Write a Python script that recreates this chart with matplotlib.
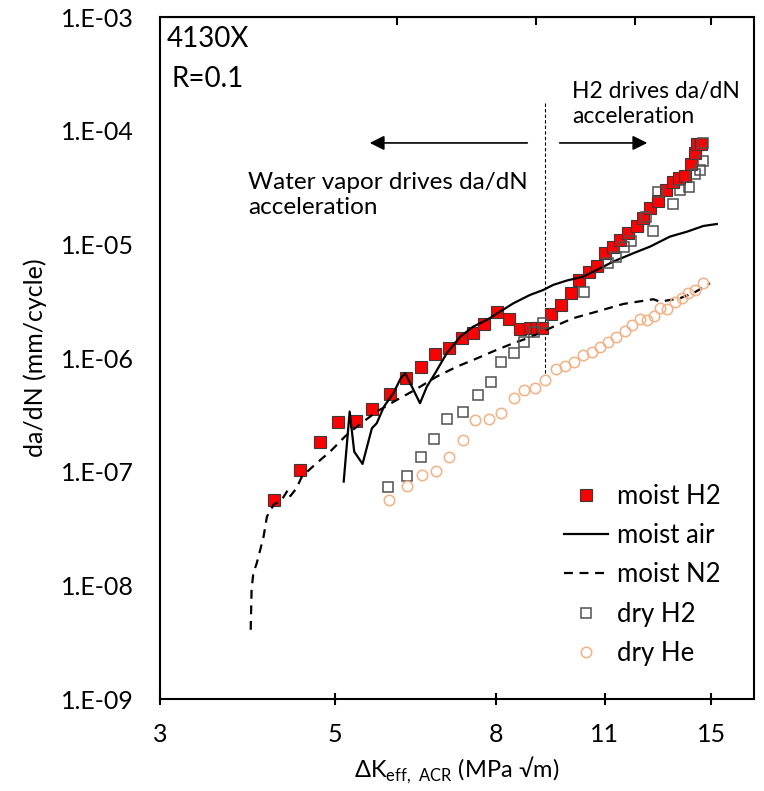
import numpy as np
import matplotlib
matplotlib.use('Agg')
import matplotlib.pyplot as plt
from matplotlib.ticker import FixedLocator, NullLocator, NullFormatter

plt.rcParams['font.family'] = ['Lato', 'DejaVu Sans']
plt.rcParams['mathtext.fontset'] = 'custom'
plt.rcParams['mathtext.rm'] = 'Lato'

# moist H2 (filled red squares)
moist_h2_k = [4.19, 4.52, 4.78, 5.04, 5.31, 5.58, 5.87, 6.15, 6.42, 6.70, 6.98, 7.24, 7.49, 7.73,
              8.02, 8.31, 8.58, 8.85, 9.01, 9.16, 9.40, 9.69, 9.96, 10.20, 10.50, 10.75, 10.99,
              11.26, 11.51, 11.78, 12.07, 12.30, 12.55, 12.86, 13.16, 13.40, 13.65, 13.88, 14.14,
              14.33, 14.41, 14.56]
moist_h2_dadn = [5.65e-8, 1.04e-7, 1.82e-7, 2.76e-7, 2.80e-7, 3.57e-7, 4.83e-7, 6.64e-7, 8.30e-7,
                 1.08e-6, 1.23e-6, 1.51e-6, 1.67e-6, 1.98e-6, 2.56e-6, 2.21e-6, 1.79e-6, 1.83e-6,
                 1.83e-6, 1.83e-6, 2.44e-6, 2.93e-6, 3.74e-6, 4.86e-6, 5.66e-6, 6.50e-6, 8.32e-6,
                 9.55e-6, 1.09e-5, 1.26e-5, 1.45e-5, 1.70e-5, 2.07e-5, 2.41e-5, 3.01e-5, 3.54e-5,
                 3.80e-5, 4.01e-5, 5.09e-5, 6.33e-5, 7.69e-5, 7.69e-5]

# moist air (solid line)
moist_air_k = [5.13, 5.22, 5.29, 5.42, 5.57, 5.65, 5.77, 5.93, 6.06, 6.14, 6.26, 6.41, 6.54, 6.70,
               6.93, 7.21, 7.49, 7.79, 8.10, 8.42, 8.84, 9.19, 9.46, 9.85, 10.33, 10.95, 11.27,
               11.95, 12.55, 13.30, 13.97, 14.66, 15.25]
moist_air_dadn = [8.18e-8, 3.38e-7, 1.50e-7, 1.17e-7, 2.41e-7, 2.67e-7, 3.74e-7, 4.90e-7, 6.64e-7,
                  7.35e-7, 5.60e-7, 4.00e-7, 5.60e-7, 7.35e-7, 1.10e-6, 1.54e-6, 1.89e-6, 2.16e-6,
                  2.56e-6, 3.03e-6, 3.59e-6, 3.97e-6, 4.40e-6, 4.81e-6, 5.20e-6, 6.37e-6, 7.05e-6,
                  8.35e-6, 9.55e-6, 1.17e-5, 1.29e-5, 1.45e-5, 1.51e-5]

# moist N2 (dashed line)
moist_n2_k = [3.91, 3.92, 3.94, 3.98, 4.02, 4.06, 4.10, 4.18, 4.28, 4.36, 4.39, 4.47, 4.54, 4.74,
              4.93, 5.15, 5.33, 5.65, 5.99, 6.26, 6.47, 6.73, 7.14, 7.49, 8.02, 8.42, 8.84, 9.37,
              10.03, 10.74, 11.61, 12.67, 12.92, 13.30, 13.70, 14.24, 14.95]
moist_n2_dadn = [4.06e-9, 9.13e-9, 1.28e-8, 1.57e-8, 2.05e-8, 2.69e-8, 4.03e-8, 5.11e-8, 5.65e-8,
                 6.92e-8, 6.1e-8, 7.16e-8, 9.05e-8, 1.19e-7, 1.50e-7, 2.04e-7, 2.49e-7, 3.38e-7,
                 4.28e-7, 5.06e-7, 5.80e-7, 6.86e-7, 8.40e-7, 9.62e-7, 1.18e-6, 1.35e-6, 1.52e-6,
                 1.83e-6, 2.24e-6, 2.56e-6, 2.99e-6, 3.29e-6, 3.13e-6, 3.24e-6, 3.36e-6, 3.72e-6,
                 4.55e-6]

# dry H2 (open grey squares)
dry_h2_k = [5.83, 6.17, 6.42, 6.68, 6.94, 7.26, 7.60, 7.89, 8.13, 8.43, 8.68, 8.95, 9.19, 10.34,
            11.10, 11.36, 11.63, 11.87, 12.41, 12.67, 12.83, 13.43, 13.70, 14.06, 14.31, 14.52,
            14.63, 14.66]
dry_h2_dadn = [7.40e-8, 9.18e-8, 1.34e-7, 1.94e-7, 2.91e-7, 3.38e-7, 4.73e-7, 6.12e-7, 9.15e-7,
               1.11e-6, 1.39e-6, 1.71e-6, 2.05e-6, 3.78e-6, 6.86e-6, 7.80e-6, 9.49e-6, 1.06e-5,
               1.74e-5, 1.30e-5, 2.91e-5, 2.27e-5, 3.01e-5, 3.22e-5, 4.12e-5, 4.51e-5, 5.41e-5,
               7.75e-5]

# dry He (open orange circles)
dry_he_k = [5.86, 6.18, 6.44, 6.71, 6.98, 7.26, 7.53, 7.83, 8.12, 8.44, 8.69, 8.97, 9.24, 9.53,
            9.79, 10.04, 10.32, 10.59, 10.84, 11.10, 11.37, 11.65, 11.89, 12.18, 12.43, 12.69,
            12.92, 13.20, 13.50, 13.76, 14.03, 14.31, 14.63]
dry_he_dadn = [5.65e-8, 7.50e-8, 9.31e-8, 1.02e-7, 1.35e-7, 1.91e-7, 2.83e-7, 2.92e-7, 3.31e-7,
               4.43e-7, 5.28e-7, 5.42e-7, 6.38e-7, 7.96e-7, 8.47e-7, 9.24e-7, 1.06e-6, 1.12e-6,
               1.26e-6, 1.38e-6, 1.54e-6, 1.72e-6, 1.94e-6, 2.21e-6, 2.14e-6, 2.35e-6, 2.74e-6,
               2.69e-6, 3.13e-6, 3.36e-6, 3.72e-6, 3.97e-6, 4.55e-6]

x_ticks = [3, 5, 8, 11, 15]
x_top_ticks = [6, 9, 12, 15]
y_exps = [-9, -8, -7, -6, -5, -4, -3]

fig = plt.figure(figsize=(7.64, 7.91), dpi=100)
ax = fig.add_axes([0.2094, 0.1163, 0.7775, 0.8622])

ax.plot(moist_h2_k, moist_h2_dadn, 's', ms=9, mfc='#ff0000', mec='#3a3a3a', mew=0.8,
        label='moist H2', zorder=3)
ax.plot(moist_air_k, moist_air_dadn, '-', color='black', lw=1.6, label='moist air', zorder=4)
ax.plot(moist_n2_k, moist_n2_dadn, color='black', lw=1.6, ls=(0, (4, 3)), label='moist N2', zorder=4)
ax.plot(dry_h2_k, dry_h2_dadn, 's', ms=7.5, mfc='none', mec='#505050', mew=1.1,
        label='dry H2', zorder=5)
ax.plot(dry_he_k, dry_he_dadn, 'o', ms=7.5, mfc='none', mec='#f4b183', mew=1.1,
        label='dry He', zorder=5)

ax.set_xscale('log')
ax.set_yscale('log')
ax.set_xlim(3, 17)
ax.set_ylim(1e-9, 1e-3)

ax.xaxis.set_major_locator(FixedLocator(x_ticks))
ax.xaxis.set_minor_locator(NullLocator())
ax.xaxis.set_minor_formatter(NullFormatter())
ax.set_xticklabels([str(t) for t in x_ticks])
ax.yaxis.set_major_locator(FixedLocator([10.0 ** e for e in y_exps]))
ax.yaxis.set_minor_locator(NullLocator())
ax.set_yticklabels(['1.E-%02d' % (-e) for e in y_exps])

ax.tick_params(axis='x', which='major', direction='inout', length=8, width=1.5,
               labelsize=18, pad=13)
ax.tick_params(axis='y', which='major', length=0, labelsize=18, pad=19)
for s in ax.spines.values():
    s.set_linewidth(1.5)

# ticks along the top edge
top = ax.secondary_xaxis('top')
top.xaxis.set_major_locator(FixedLocator(x_top_ticks))
top.xaxis.set_minor_locator(NullLocator())
top.xaxis.set_major_formatter(NullFormatter())
top.xaxis.set_minor_formatter(NullFormatter())
top.tick_params(direction='in', length=6, width=1.5)

ax.set_xlabel('ΔK$_\\mathregular{eff,\\ ACR}$ (MPa √m)', fontsize=17, labelpad=7)
ax.set_ylabel('da/dN (mm/cycle)', fontsize=18, labelpad=10)

# annotations
ax.text(0.012, 0.968, '4130X', transform=ax.transAxes, fontsize=20, va='center', ha='left')
ax.text(0.020, 0.909, 'R=0.1', transform=ax.transAxes, fontsize=20, va='center', ha='left')
ax.text(0.694, 0.872, 'H2 drives da/dN\nacceleration', transform=ax.transAxes, fontsize=16.5,
        va='center', ha='left', linespacing=1.25)
ax.text(0.148, 0.739, 'Water vapor drives da/dN\nacceleration', transform=ax.transAxes,
        fontsize=17.5, va='center', ha='left', linespacing=1.2)

ax.plot([9.23, 9.23], [1.75e-4, 7.4e-7], color='black', lw=0.8, ls=(0, (3, 2)), zorder=2)
ax.annotate('', xy=(5.49, 7.8e-5), xytext=(8.84, 7.8e-5),
            arrowprops=dict(arrowstyle='-|>', color='black', lw=1.2, mutation_scale=22))
ax.annotate('', xy=(12.55, 7.8e-5), xytext=(9.56, 7.8e-5),
            arrowprops=dict(arrowstyle='-|>', color='black', lw=1.2, mutation_scale=22))

ax.legend(loc='lower right', bbox_to_anchor=(0.965, 0.03), frameon=False, fontsize=18.5,
          handlelength=1.7, labelspacing=0.55, handletextpad=0.35, borderpad=0)

fig.savefig('out.png', dpi=100)
